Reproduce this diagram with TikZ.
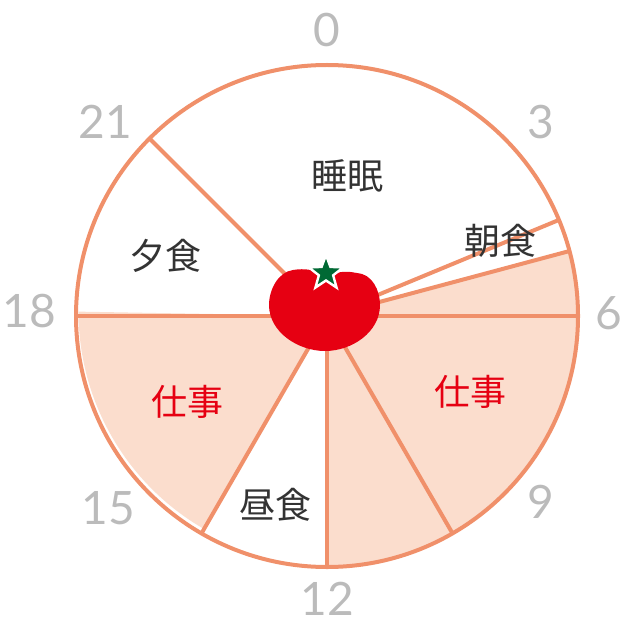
\documentclass[tikz,border=0pt]{standalone}
\usepackage{fontspec}
\setmainfont{Lato}
\newfontfamily\jpfont{Noto Sans CJK JP}
\usetikzlibrary{shapes.geometric}
\definecolor{lineorange}{HTML}{F0906A}
\definecolor{workpink}{HTML}{FBDDCD}
\definecolor{tomatored}{HTML}{E60012}
\definecolor{stemgreen}{HTML}{006934}
\definecolor{hourgray}{HTML}{BBBBBB}
\begin{document}
\begin{tikzpicture}[
  x=0.5pt, y=-0.5pt,
  spoke/.style={draw=lineorange, line width=2pt},
  hour/.style={text=hourgray, font=\fontsize{23}{23}\selectfont},
  meal/.style={text=black!80, font=\jpfont\fontsize{18}{18}\selectfont},
  work/.style={text=tomatored, font=\jpfont\fontsize{18}{18}\selectfont},
]
\useasboundingbox (0,0) rectangle (625,620);
\coordinate (c) at (327,316);

% shaded parts
\fill [workpink] (c) -- ++(15:251 and -251) arc [start angle=-15, end angle=90, radius=251] -- cycle;
\fill [workpink] (c) -- (204,529) arc [start angle=120, end angle=180, radius=251] -- cycle;

% spokes
\foreach \a in {-22.5,-15,0,60,90,120,180,225} {
  \draw [spoke] (c) -- ++(\a:251);
}
\draw [spoke] (c) circle [radius=251];

% tomato
\fill [tomatored] (326,275) .. controls (315,270) and (305,268) .. (293,270)
  .. controls (278,272) and (269,290) .. (269,305)
  .. controls (269,332) and (298,351) .. (325,351)
  .. controls (352,351) and (380,332) .. (380,305)
  .. controls (380,290) and (372,274) .. (357,273)
  .. controls (345,271) .. (326,275);
\node (star) [star, star points=5, star point ratio=2.4, minimum size=18pt, inner sep=0pt,
  fill=stemgreen, draw=white, line width=1.2pt] at (326,273) {};

% hours
\node (h0) [hour] at (327,30) {0};
\node (h3) [hour] at (541,122) {3};
\node (h6) [hour] at (609,313) {6};
\node (h9) [hour] at (541,502) {9};
\node (h12) [hour] at (327,599) {12};
\node (h15) [hour] at (108,508) {15};
\node (h18) [hour] at (29,311) {18};
\node (h21) [hour] at (105,122) {21};

% labels
\node (sleep) [meal] at (347,176) {睡眠};
\node (breakfast) [meal] at (500,241) {朝食};
\node (dinner) [meal] at (165,256) {夕食};
\node (lunch) [meal] at (275,505) {昼食};
\node (workam) [work] at (470,392) {仕事};
\node (workpm) [work] at (187,402) {仕事};
\end{tikzpicture}
\end{document}
